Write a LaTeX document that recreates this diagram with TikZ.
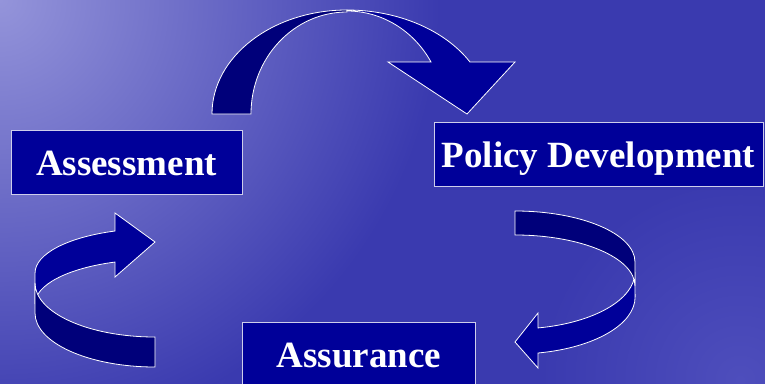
\documentclass[tikz,border=0pt]{standalone}
\usepackage{fontspec}
\setmainfont{Liberation Serif}
\definecolor{bgbase}{RGB}{58,58,175}
\definecolor{bglight}{RGB}{148,148,218}
\definecolor{bgglow}{RGB}{78,78,188}
\definecolor{boxblue}{RGB}{0,0,153}
\definecolor{arrdark}{RGB}{0,0,122}
\definecolor{arrbright}{RGB}{0,0,153}
\definecolor{edgecol}{RGB}{205,205,235}
\begin{document}
\begin{tikzpicture}[x=1pt,y=-1pt,
  lbl/.style={draw=edgecol, line width=0.9pt, fill=boxblue, text=white,
    font=\fontsize{37}{40}\selectfont\bfseries, inner sep=0pt,
    text height=26pt, text depth=0pt, minimum height=64pt},
  darkband/.style={fill=arrdark, draw=white, line width=0.8pt},
  brightband/.style={fill=arrbright, draw=white, line width=0.8pt}]
\useasboundingbox (0,0) rectangle (765,383);
% background
\begin{scope}
\clip (-10,-10) rectangle (775,395);
\fill[bgbase] (-10,-10) rectangle (775,395);
\shade[inner color=bgglow, outer color=bgbase] (40,270) circle[radius=220];
\shade[inner color=bgglow, outer color=bgbase] (740,380) circle[radius=200];
\shade[inner color=bglight, outer color=bgbase] (0,0) circle[radius=440];
\end{scope}
% top arrow
\draw[darkband] (212,114) arc[start angle=180,end angle=270,x radius=135,y radius=104]
  -- (347,12) arc[start angle=270,end angle=180,x radius=96,y radius=102] -- cycle;
\draw[brightband] (347,10) arc[start angle=270,end angle=330,x radius=142,y radius=104]
  -- (515,62) -- (467,114) -- (388,62) -- (431,62)
  arc[start angle=330,end angle=270,x radius=97,y radius=102] -- cycle;
% left arrow
\draw[brightband] (155,242) -- (115,213) -- (115,231)
  arc[start angle=250.5,end angle=180,x radius=120,y radius=44.5] -- (35,304)
  arc[start angle=180,end angle=250.5,x radius=120,y radius=44.5] -- (115,277) -- cycle;
\draw[darkband] (35,283) arc[start angle=180,end angle=90,x radius=120,y radius=54]
  -- (155,367) arc[start angle=90,end angle=180,x radius=120,y radius=54] -- cycle;
% right arrow
\draw[brightband] (635,272) arc[start angle=0,end angle=79,x radius=120,y radius=57]
  -- (538,313) -- (515,342) -- (538,368) -- (538,353)
  arc[start angle=79,end angle=0,x radius=120,y radius=57] -- cycle;
\draw[darkband] (515,211) arc[start angle=270,end angle=360,x radius=120,y radius=51]
  -- (635,286) arc[start angle=0,end angle=-90,x radius=120,y radius=51] -- cycle;
% boxes
\node[lbl, minimum width=231pt] (assess) at (126.5,162) {Assessment};
\node[lbl, minimum width=329pt] (policy) at (598.5,154) {Policy Development};
\node[lbl, minimum width=233pt] (assur) at (359,354) {Assurance};
\end{tikzpicture}
\end{document}
